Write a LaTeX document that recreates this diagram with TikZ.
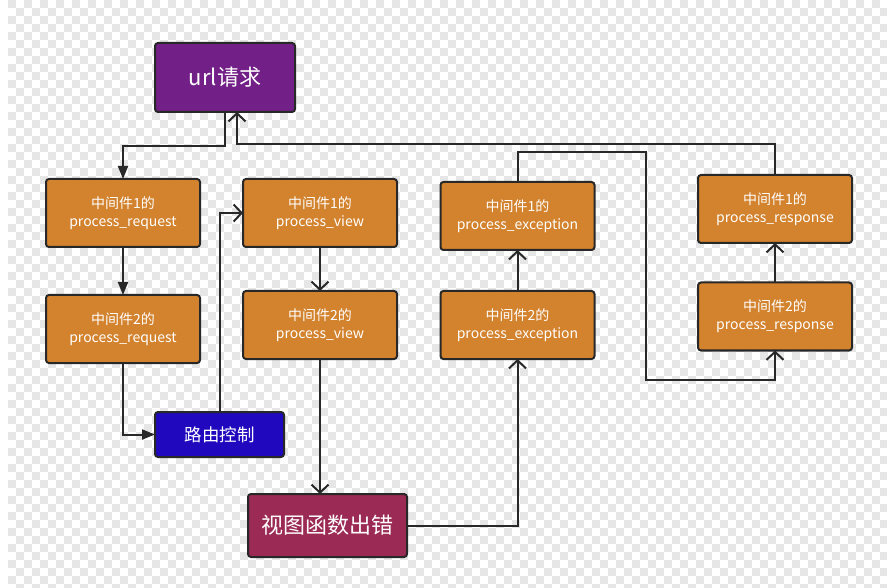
\documentclass[tikz,border=0pt]{standalone}
\usepackage{fontspec}
\setmainfont{Noto Sans CJK SC}
\usetikzlibrary{arrows.meta,calc}
\definecolor{orangebox}{RGB}{211,130,45}
\definecolor{purplebox}{RGB}{114,31,135}
\definecolor{bluebox}{RGB}{31,8,190}
\definecolor{maroonbox}{RGB}{155,42,85}
\definecolor{edge}{RGB}{40,40,40}
\definecolor{checker}{RGB}{230,230,230}
\begin{document}
\begin{tikzpicture}[x=1pt,y=-1pt,
  box/.style={draw=edge, line width=2pt, rounded corners=3pt, text=white, align=center, inner sep=0pt, outer sep=0pt},
  mid/.style={box, fill=orangebox, minimum width=154pt, minimum height=68pt, font=\fontsize{14}{18}\selectfont},
  conn/.style={draw=edge, line width=2pt},
  fa/.style={conn, -{Triangle[length=13pt,width=10pt]}},
  oa/.style={conn, -{Straight Barb[length=8pt,width=17pt,line width=2pt]}}]
\useasboundingbox (0,0) rectangle (887,588);
\fill[white] (0,0) rectangle (887,588);
\foreach \j in {0,...,73}{
  \pgfmathsetmacro\off{8*mod(\j,2)}
  \foreach \i in {0,...,55}{
    \fill[checker] (16*\i+\off+8, 8*\j) rectangle ++(8,8);
  }
}
\node[box, fill=purplebox, minimum width=140pt, minimum height=69pt, font=\fontsize{22}{26}\selectfont] (url) at (225,77.5) {url请求};
\node[mid] (req1) at (123,213) {中间件1的\\process\_request};
\node[mid] (req2) at (123,329) {中间件2的\\process\_request};
\node[mid] (view1) at (320,213) {中间件1的\\process\_view};
\node[mid] (view2) at (320,325) {中间件2的\\process\_view};
\node[mid] (exc1) at (517.5,216) {中间件1的\\process\_exception};
\node[mid] (exc2) at (517.5,325) {中间件2的\\process\_exception};
\node[mid] (resp1) at (775,209) {中间件1的\\process\_response};
\node[mid] (resp2) at (775,316.5) {中间件2的\\process\_response};
\node[box, fill=bluebox, minimum width=129pt, minimum height=45pt, font=\fontsize{17.5}{20}\selectfont] (route) at (219.5,434.5) {路由控制};
\node[box, fill=maroonbox, minimum width=159pt, minimum height=63pt, font=\fontsize{22}{26}\selectfont] (err) at (327.5,525.5) {视图函数出错};
\coordinate (c1) at (123,146);
\coordinate (k1) at (646,152);
\coordinate (k2) at (646,380);
\coordinate (k3) at (237,144);
\draw[fa] (url.south) |- (c1) -- (req1.north);
\draw[fa] (req1.south) -- (req2.north);
\draw[fa] (req2.south) |- (route.west);
\draw[oa] (route.north) |- (view1.west);
\draw[oa] (view1.south) -- (view2.north);
\draw[oa] (view2.south) -- (view2.south |- err.north);
\draw[oa] (err.east) -| (exc2.south);
\draw[oa] (exc2.north) -- (exc1.south);
\draw[oa] (exc1.north) |- (k1) -- (k2) -| (resp2.south);
\draw[oa] (resp2.north) -- (resp1.south);
\draw[oa] (resp1.north) |- (k3) -- (k3 |- url.south);
\end{tikzpicture}
\end{document}
